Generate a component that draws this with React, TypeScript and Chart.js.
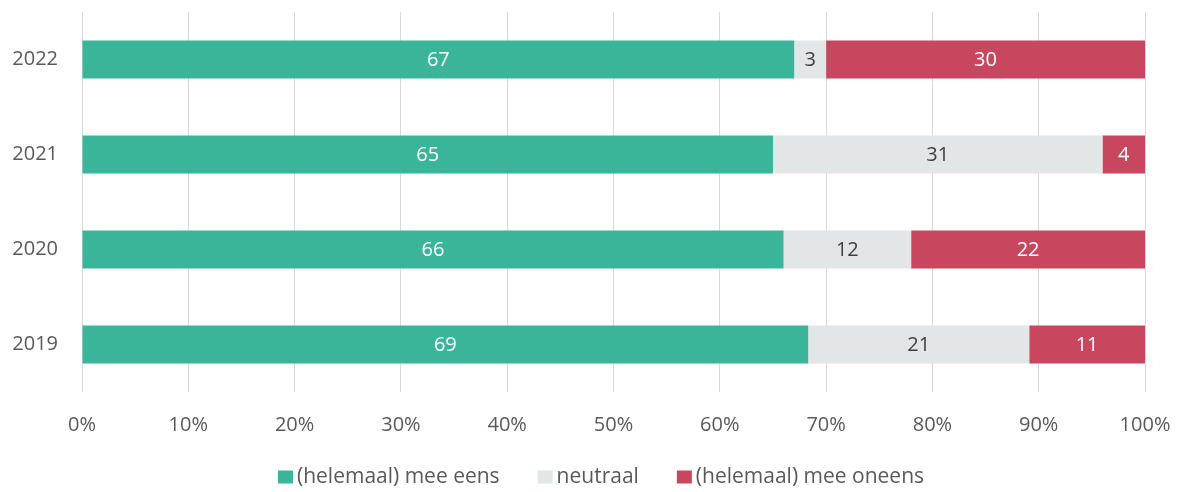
import React, { useEffect, useRef } from "react";
import { Chart, registerables } from "chart.js";

Chart.register(...registerables);

const years = ["2022", "2021", "2020", "2019"];
const eens = [67, 65, 66, 69];
const neutraal = [3, 31, 12, 21];
const oneens = [30, 4, 22, 11];
const seriesNames = ["(helemaal) mee eens", "neutraal", "(helemaal) mee oneens"];
const colors = ["#3AB59A", "#E2E6E6", "#C8475F"];
const labelColors = ["#FFFFFF", "#404040", "#FFFFFF"];
const xTicks = [0, 10, 20, 30, 40, 50, 60, 70, 80, 90, 100];

const FONT = "'Open Sans', 'Liberation Sans', sans-serif";
const TEXT = "#595959";

const totals = years.map((_, i) => eens[i] + neutraal[i] + oneens[i]);
const raw = [eens, neutraal, oneens];

const labelPlugin = {
  id: "segLabels",
  afterDatasetsDraw(chart: any) {
    const ctx = chart.ctx;
    ctx.save();
    ctx.font = `20px ${FONT}`;
    ctx.textAlign = "center";
    ctx.textBaseline = "middle";
    chart.data.datasets.forEach((ds: any, di: number) => {
      const meta = chart.getDatasetMeta(di);
      meta.data.forEach((bar: any, i: number) => {
        const x = (bar.x + bar.base) / 2;
        ctx.fillStyle = labelColors[di];
        ctx.fillText(String(raw[di][i]), x, bar.y + 1);
      });
    });
    ctx.restore();
  },
};

const legendPlugin = {
  id: "customLegend",
  afterDraw(chart: any) {
    const ctx = chart.ctx;
    ctx.save();
    ctx.font = `21px ${FONT}`;
    ctx.textBaseline = "middle";
    ctx.textAlign = "left";
    const boxW = 15;
    const boxH = 13;
    const gapText = 4;
    const gapItem = 38;
    const widths = seriesNames.map((n) => boxW + gapText + ctx.measureText(n).width);
    const total = widths.reduce((a, b) => a + b, 0) + gapItem * (seriesNames.length - 1);
    let x = 601 - total / 2;
    const y = 477;
    seriesNames.forEach((n, i) => {
      ctx.fillStyle = colors[i];
      ctx.fillRect(x, y - boxH / 2, boxW, boxH);
      ctx.fillStyle = TEXT;
      ctx.fillText(n, x + boxW + gapText, y);
      x += widths[i] + gapItem;
    });
    ctx.restore();
  },
};

const zeroPad = (axis: any) => {
  axis.paddingTop = 0;
  axis.paddingBottom = 0;
  axis.paddingLeft = 0;
  axis.paddingRight = 0;
};

export default function App() {
  const ref = useRef<HTMLCanvasElement>(null);
  useEffect(() => {
    document.body.style.margin = "0";
    const chart = new Chart(ref.current!, {
      type: "bar",
      data: {
        labels: years,
        datasets: raw.map((arr, di) => ({
          label: seriesNames[di],
          data: arr.map((v, i) => (v / totals[i]) * 100),
          backgroundColor: colors[di],
          borderWidth: 0,
          barPercentage: 0.8,
          categoryPercentage: 0.5,
        })),
      },
      options: {
        indexAxis: "y",
        animation: false,
        responsive: false,
        maintainAspectRatio: false,
        layout: { padding: { top: 12, right: 36, left: 12, bottom: 55 } },
        plugins: {
          legend: { display: false },
          tooltip: { enabled: false },
        },
        scales: {
          x: {
            stacked: true,
            min: 0,
            max: 100,
            afterBuildTicks: (axis: any) => {
              axis.ticks = xTicks.map((v) => ({ value: v }));
            },
            afterFit: (axis: any) => {
              axis.height = 45;
              zeroPad(axis);
            },
            ticks: {
              callback: (v: any) => v + "%",
              color: TEXT,
              font: { family: FONT, size: 20 },
              padding: 21,
              maxRotation: 0,
            },
            grid: { color: "#D9D9D9", drawTicks: false, lineWidth: 1 },
            border: { display: false },
          },
          y: {
            stacked: true,
            afterFit: (axis: any) => {
              axis.width = 70;
              zeroPad(axis);
            },
            ticks: {
              color: TEXT,
              font: { family: FONT, size: 20 },
              padding: 24,
            },
            grid: { display: false, drawTicks: false },
            border: { display: false },
          },
        },
      },
      plugins: [labelPlugin, legendPlugin],
    } as any);
    return () => chart.destroy();
  }, []);
  return (
    <div style={{ width: 1181, height: 492 }}>
      <canvas ref={ref} width={1181} height={492} style={{ display: "block" }} />
    </div>
  );
}
